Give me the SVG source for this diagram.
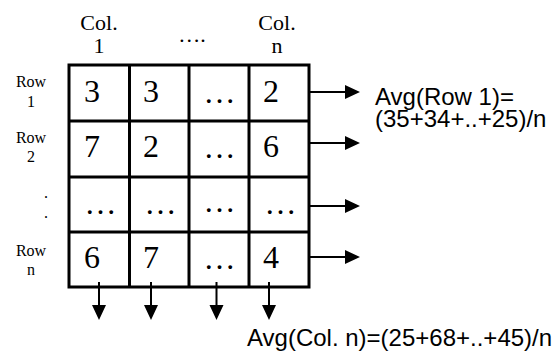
<svg xmlns="http://www.w3.org/2000/svg" width="554" height="352" viewBox="0 0 554 352">
<style>
.grid{fill:none;stroke:#000;stroke-width:3}
.conn{stroke:#000;stroke-width:2;fill:none}
.head{fill:#000}
.cell{font-family:"Liberation Serif","Times New Roman",serif;font-size:32px;fill:#000}
.hdr{font-family:"Liberation Serif","Times New Roman",serif;font-size:22px;fill:#000;text-anchor:middle}
.rl{font-family:"Liberation Serif","Times New Roman",serif;font-size:16px;fill:#000;text-anchor:middle}
.note{font-family:"Liberation Sans",Arial,sans-serif;font-size:24px;fill:#000}
</style>
<rect width="554" height="352" fill="#fff"/>
<g id="headers">
<text class="hdr" x="99" y="30">Col.</text>
<text class="hdr" x="99" y="53">1</text>
<text class="hdr" x="192" y="42">….</text>
<text class="hdr" x="277" y="30">Col.</text>
<text class="hdr" x="277" y="53">n</text>
</g>
<g id="row-labels">
<text class="rl" x="31" y="87">Row</text>
<text class="rl" x="31" y="107">1</text>
<text class="rl" x="31" y="143">Row</text>
<text class="rl" x="31" y="162">2</text>
<text class="rl" x="46" y="198">.</text>
<text class="rl" x="46" y="218">.</text>
<text class="rl" x="31" y="256">Row</text>
<text class="rl" x="31" y="275">n</text>
</g>
<g id="matrix">
<path class="grid" d="M69,65H309V287H69Z M129.5,65V287 M189,65V287 M249,65V287 M69,121H309 M69,177H309 M69,232H309"/>
<text class="cell" x="84" y="102">3</text>
<text class="cell" x="143" y="102">3</text>
<text class="cell" x="203.5" y="103">…</text>
<text class="cell" x="263" y="102">2</text>
<text class="cell" x="84" y="157">7</text>
<text class="cell" x="143" y="157">2</text>
<text class="cell" x="203.5" y="158">…</text>
<text class="cell" x="263" y="157">6</text>
<text class="cell" x="84.5" y="214">…</text>
<text class="cell" x="144.5" y="214">…</text>
<text class="cell" x="203.5" y="212">…</text>
<text class="cell" x="264.5" y="214">…</text>
<text class="cell" x="84" y="268">6</text>
<text class="cell" x="143" y="268">7</text>
<text class="cell" x="203.5" y="269">…</text>
<text class="cell" x="263" y="268">4</text>
</g>
<g id="connectors">
<path class="conn" d="M309,92H346 M309,143H346 M309,206H346 M309,257H346"/>
<path class="head" d="M345,85L360,92L345,99Z M345,136L360,143L345,150Z M345,199L360,206L345,213Z M345,250L360,257L345,264Z"/>
<path class="conn" d="M99,282V306 M151,282V306 M216.5,282V306 M269,282V306"/>
<path class="head" d="M92,305L99,320L106,305Z M144,305L151,320L158,305Z M209.5,305L216.5,320L223.5,305Z M262,305L269,320L276,305Z"/>
</g>
<g id="row-average">
<text class="note" x="375" y="105">Avg(Row 1)=</text>
<text class="note" x="375" y="127">(35+34+..+25)/n</text>
</g>
<g id="col-average">
<text class="note" x="247" y="346">Avg(Col. n)=(25+68+..+45)/n</text>
</g>
</svg>
